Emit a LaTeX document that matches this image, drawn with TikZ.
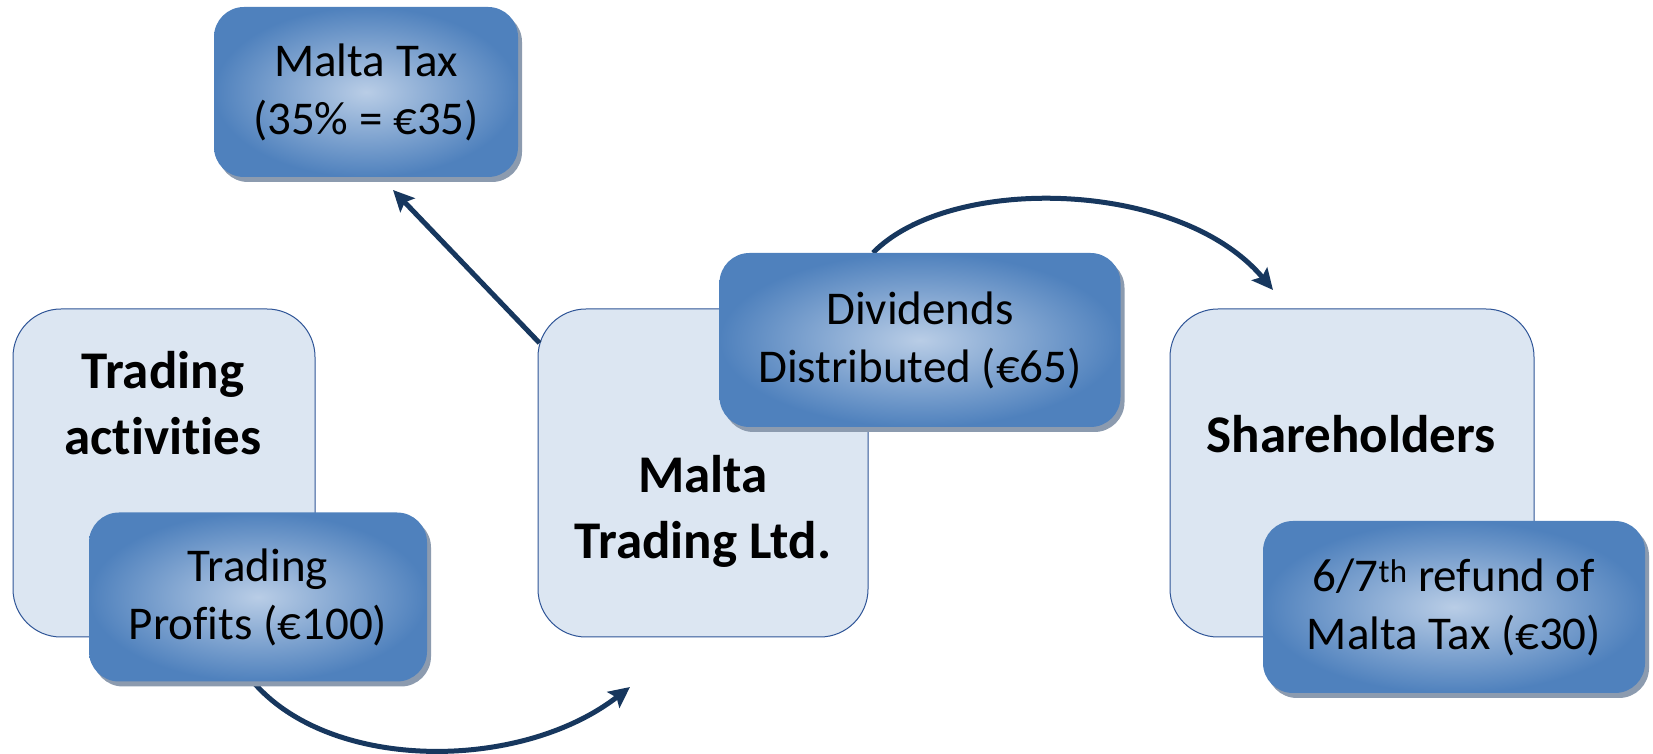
\documentclass[tikz,border=0pt]{standalone}
\usepackage{fontspec}
\setmainfont[Ligatures=NoCommon,RawFeature={-liga;-clig}]{Carlito}
\usetikzlibrary{shadows,arrows.meta,calc}
\definecolor{lightbox}{RGB}{220,230,242}
\definecolor{lightedge}{RGB}{47,85,151}
\definecolor{gradin}{RGB}{185,205,230}
\definecolor{gradout}{RGB}{79,129,189}
\definecolor{shadowc}{RGB}{140,155,175}
\definecolor{arrowc}{RGB}{23,55,94}
\pgfdeclarelayer{bg}
\pgfdeclarelayer{mid}
\pgfsetlayers{bg,mid,main}
\begin{document}
\begin{tikzpicture}[x=1pt,y=1pt,
  entity/.style={draw=lightedge, line width=1pt, fill=lightbox, rounded corners=48pt, inner sep=0pt},
  entitytext/.style={align=center, inner sep=0pt, font=\bfseries\fontsize{53}{66}\selectfont},
  note/.style={rounded corners=30pt, shading=radial, inner color=gradin, outer color=gradout,
    drop shadow={shadow xshift=4pt, shadow yshift=-5pt, fill=shadowc, opacity=1},
    inner sep=0pt, align=center, font=\fontsize{47}{58}\selectfont},
  flow/.style={draw=arrowc, line width=5pt, -{Stealth[length=21pt,width=20pt,inset=4pt]}}]
\useasboundingbox (0,0) rectangle (1653,754);

\begin{pgfonlayer}{bg}
\node[entity, minimum width=302pt, minimum height=328pt] (ta) at (164,281) {};
\node[entity, minimum width=330pt, minimum height=328pt] (mtl) at (703,281) {};
\node[entity, minimum width=364pt, minimum height=328pt] (sh) at (1352,281) {};
\node[entitytext] (taText) at (163,351) {Trading\\activities};
\node[entitytext] (mtlText) at (703,243) {Malta\\Trading Ltd.};
\node[entitytext] (shText) at (1351,320) {Shareholders};
\end{pgfonlayer}

\node[note, minimum width=304pt, minimum height=170pt] (tax) at (366,662) {Malta Tax\\(35\% = €35)};
\node[note, minimum width=401pt, minimum height=174pt] (div) at (920,414) {Dividends\\Distributed (€65)};
\node[note, minimum width=338pt, minimum height=169pt] (tp) at (258,157) {Trading\\Profits (€100)};
\node[note, minimum width=382pt, minimum height=172pt] (ref) at (1454,147) {6/7\textsuperscript{th} refund of\\Malta Tax (€30)};

\coordinate (a1end) at (630,67);
\coordinate (a2end) at (393,564);
\coordinate (a3end) at (1273,464);

\begin{pgfonlayer}{mid}
\draw[flow] ($(tp.south)+(-5,0)$) .. controls (330,-18) and (520,-18) .. (a1end);
\draw[flow] ($(mtl.west)+(2,130)$) -- (a2end);
\draw[flow] ($(div.north)+(-47,0)$) .. controls (950,580) and (1180,575) .. (a3end);
\end{pgfonlayer}
\end{tikzpicture}
\end{document}
